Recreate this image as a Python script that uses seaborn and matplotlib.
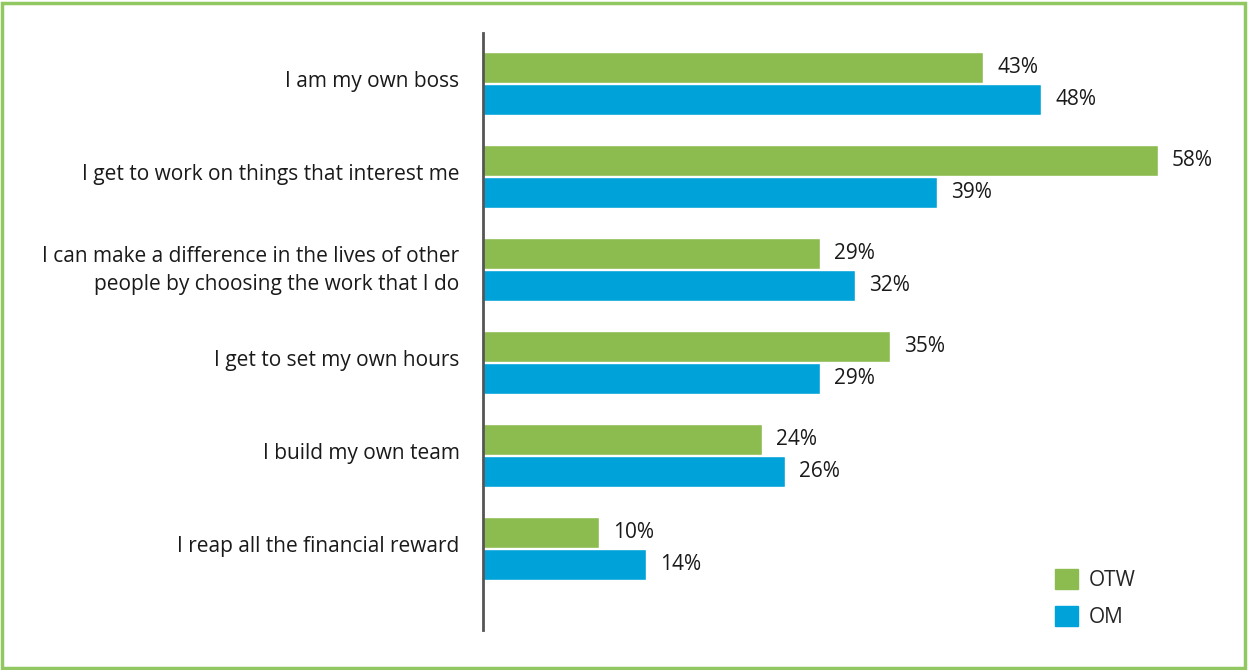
import matplotlib
matplotlib.use("Agg")
import matplotlib.pyplot as plt
import matplotlib.patches as mpatches
import matplotlib.transforms as mtransforms
import pandas as pd
import seaborn as sns

categories = [
    "I am my own boss",
    "I get to work on things that interest me",
    "I can make a difference in the lives of other\npeople by choosing the work that I do",
    "I get to set my own hours",
    "I build my own team",
    "I reap all the financial reward",
]
otw = [43, 58, 29, 35, 24, 10]
om = [48, 39, 32, 29, 26, 14]
series = ["OTW", "OM"]
colors = ["#8cbb50", "#00a3d9"]

df = pd.DataFrame({
    "reason": categories * 2,
    "value": otw + om,
    "group": ["OTW"] * len(otw) + ["OM"] * len(om),
})

sns.set_style("white")
plt.rcParams["font.family"] = ["Open Sans", "DejaVu Sans"]

fig = plt.figure(figsize=(12.49, 6.70), dpi=100)
ax = fig.add_axes([483 / 1249, 40 / 670, 698 / 1249, 597 / 670])

sns.barplot(data=df, y="reason", x="value", hue="group", order=categories,
            hue_order=series, palette=colors, orient="h", width=0.69, gap=0.06,
            saturation=1, ax=ax, legend=False)

ax.set_xlim(0, 60)
ax.set_ylim(5.876, -0.543)
ax.set_xlabel("")
ax.set_ylabel("")
ax.set_xticks([])
ax.tick_params(axis="y", length=0, pad=17, labelsize=15, labelcolor="#1a1a1a")
# labels sit a little above the centre of each pair of bars
shift = mtransforms.ScaledTranslation(0, 5 / 100, fig.dpi_scale_trans)
for lab in ax.get_yticklabels():
    lab.set_horizontalalignment("right")
    lab.set_multialignment("right")
    lab.set_linespacing(1.45)
    lab.set_transform(lab.get_transform() + shift)

for s in ["top", "right", "bottom"]:
    ax.spines[s].set_visible(False)
ax.spines["left"].set_color("#555555")
ax.spines["left"].set_linewidth(2)

for cont in ax.containers:
    ax.bar_label(cont, fmt="%d%%", padding=10, fontsize=15, color="#1a1a1a")

handles = [mpatches.Patch(color=c, label=s) for c, s in zip(colors, series)]
ax.legend(handles=handles, loc="upper left", bbox_to_anchor=(1055 / 1249, 1 - 569 / 670),
          bbox_transform=fig.transFigure, frameon=False, fontsize=15,
          borderpad=0, borderaxespad=0,
          handlelength=1.1, handleheight=1.1, labelspacing=0.73, handletextpad=0.5)

fig.patches.append(mpatches.Rectangle((0.002, 0.003), 0.995, 0.993, transform=fig.transFigure,
                                      fill=False, edgecolor="#92c862", linewidth=2.5))

fig.savefig("out.png", dpi=100, facecolor="white")
